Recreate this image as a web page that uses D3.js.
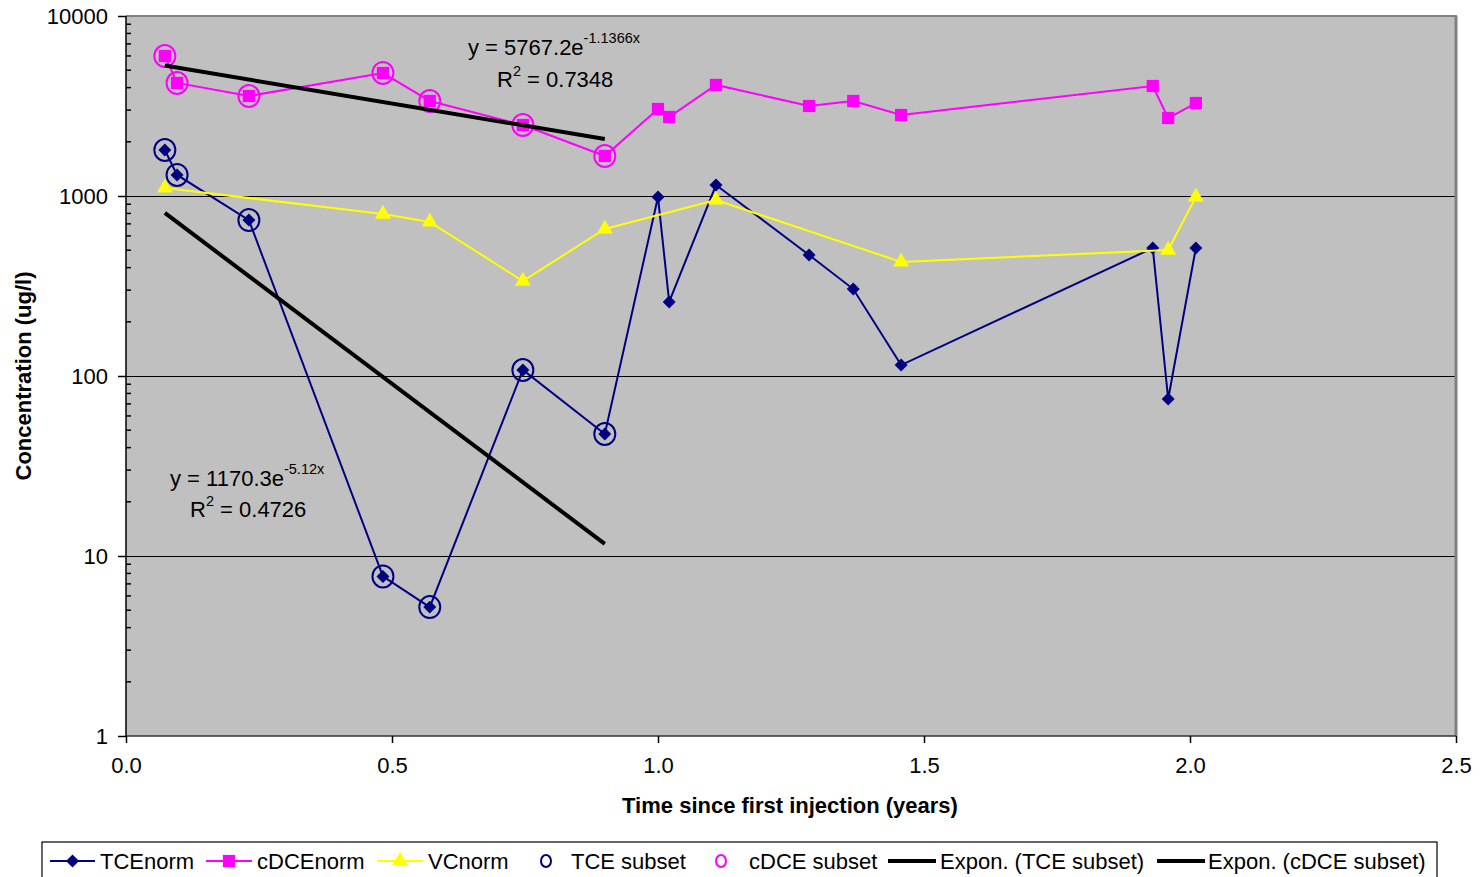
<!DOCTYPE html>
<html>
<head>
<meta charset="utf-8">
<script src="https://cdn.jsdelivr.net/npm/d3@7"></script>
<style>
  html, body { margin: 0; padding: 0; background: #fff; }
  svg { display: block; font-family: Arial, "Liberation Sans", sans-serif; }
</style>
</head>
<body>
<svg id="chart" width="1482" height="877"></svg>
<script>
// ---------------- DATA ----------------
const timeYears = [0.073, 0.096, 0.231, 0.483, 0.571, 0.746, 0.900, 1.000, 1.021, 1.109, 1.284, 1.367, 1.457, 1.930, 1.959, 2.011];
const tceNorm   = [1802, 1309, 735, 7.7, 5.2, 108, 47.6, 987, 258, 1151, 470, 304, 115, 514, 74.5, 514];
const cdceNorm  = [5995, 4245, 3594, 4822, 3372, 2479, 1668, 3043, 2748, 4140, 3162, 3372, 2818, 4084, 2712, 3285];
const vcNorm    = [1108, null, null, 794, 717, 337, 656, null, null, 950, null, null, 430, null, 501, 987];
const subsetCount = 7; // first 7 samples form the fitted subsets
const tceFit  = { a: 1170.3, b: -5.12,   label: "y = 1170.3e", sup: "-5.12x",   r2: " = 0.4726" };
const cdceFit = { a: 5767.2, b: -1.1366, label: "y = 5767.2e", sup: "-1.1366x", r2: " = 0.7348" };
const yTicks = [1, 10, 100, 1000, 10000];
const xTicks = [0.0, 0.5, 1.0, 1.5, 2.0, 2.5];
const legendItems = [
  { name: "TCEnorm",              type: "line",   color: "#000080", marker: "diamond" },
  { name: "cDCEnorm",             type: "line",   color: "#FF00FF", marker: "square" },
  { name: "VCnorm",               type: "line",   color: "#FFFF00", marker: "triangle" },
  { name: "TCE subset",           type: "circle", color: "#000080" },
  { name: "cDCE subset",          type: "circle", color: "#FF00FF" },
  { name: "Expon. (TCE subset)",  type: "trend",  color: "#000000" },
  { name: "Expon. (cDCE subset)", type: "trend",  color: "#000000" }
];

// ---------------- LAYOUT ----------------
const FS = 22;
const L = 126, R = 1456, T = 16, B = 736;
const svg = d3.select("#chart");
const x = d3.scaleLinear().domain([0, 2.5]).range([L, R]);
const y = d3.scaleLog().domain([1, 10000]).range([B, T]);

// plot area
svg.append("rect").attr("x", L).attr("y", T).attr("width", R - L).attr("height", B - T).attr("fill", "#C0C0C0");

// gridlines
svg.append("g").selectAll("line").data(yTicks.filter(d => d > 1 && d < 10000)).join("line")
  .attr("x1", L).attr("x2", R).attr("y1", d => Math.round(y(d)) + 0.5).attr("y2", d => Math.round(y(d)) + 0.5)
  .attr("stroke", "#000").attr("stroke-width", 1).attr("shape-rendering", "crispEdges");

// border top & right (gray)
svg.append("line").attr("x1", L).attr("x2", R + 1).attr("y1", T).attr("y2", T).attr("stroke", "#808080").attr("stroke-width", 2);
svg.append("line").attr("x1", R).attr("x2", R).attr("y1", T).attr("y2", B).attr("stroke", "#808080").attr("stroke-width", 3);

// y axis
const yAxisG = svg.append("g").attr("transform", `translate(${L},0)`)
  .call(d3.axisLeft(y).tickValues(yTicks).tickFormat(d3.format("d")).tickSize(8).tickPadding(10));
yAxisG.select(".domain").attr("stroke", "#000").attr("stroke-width", 1.5).attr("d", `M0,${T}V${B}`);
yAxisG.selectAll(".tick line").attr("stroke", "#000").attr("stroke-width", 1.5);
yAxisG.selectAll(".tick text").attr("font-size", FS).attr("fill", "#000").attr("font-family", "Arial, 'Liberation Sans', sans-serif");
// minor ticks (inside)
const minor = [];
yTicks.slice(0, -1).forEach(d => { for (let k = 2; k <= 9; k++) minor.push(d * k); });
svg.append("g").selectAll("line").data(minor).join("line")
  .attr("x1", L).attr("x2", L + 5).attr("y1", d => y(d)).attr("y2", d => y(d))
  .attr("stroke", "#000").attr("stroke-width", 1.5);

// x axis
const xAxisG = svg.append("g").attr("transform", `translate(0,${B})`)
  .call(d3.axisBottom(x).tickValues(xTicks).tickFormat(d3.format(".1f")).tickSize(7).tickPadding(14));
xAxisG.select(".domain").attr("stroke", "#333").attr("stroke-width", 1.5).attr("d", `M${L},0H${R}`);
xAxisG.selectAll(".tick line").attr("stroke", "#000").attr("stroke-width", 1.5);
xAxisG.selectAll(".tick text").attr("font-size", FS).attr("fill", "#000").attr("font-family", "Arial, 'Liberation Sans', sans-serif");

// axis titles
svg.append("text").attr("x", 790).attr("y", 813).attr("text-anchor", "middle")
  .attr("font-size", FS).attr("font-weight", "bold").text("Time since first injection (years)");
svg.append("text").attr("transform", "translate(31,376) rotate(-90)").attr("text-anchor", "middle")
  .attr("font-size", FS).attr("font-weight", "bold").text("Concentration (ug/l)");

// ---------------- SERIES ----------------
const rows = timeYears.map((t, i) => ({ t, tce: tceNorm[i], cdce: cdceNorm[i], vc: vcNorm[i], i }));
const lineGen = key => d3.line().x(d => x(d.t)).y(d => y(d[key]));
const plot = svg.append("g");

const diamondType = { draw(ctx, size) { const h = Math.sqrt(size / 2); ctx.moveTo(0, -h); ctx.lineTo(h, 0); ctx.lineTo(0, h); ctx.lineTo(-h, 0); ctx.closePath(); } };
const symbols = {
  diamond: d3.symbol().type(diamondType).size(84),
  square: d3.symbol().type(d3.symbolSquare).size(150),
  triangle: d3.symbol().type(d3.symbolTriangle).size(110)
};

function drawSeries(key, color, marker) {
  const pts = rows.filter(d => d[key] != null);
  plot.append("path").datum(pts).attr("d", lineGen(key)).attr("fill", "none")
    .attr("stroke", color).attr("stroke-width", 2);
  plot.append("g").selectAll("path").data(pts).join("path")
    .attr("transform", d => `translate(${x(d.t)},${y(d[key])})`)
    .attr("d", symbols[marker]).attr("fill", color);
}
drawSeries("tce", "#000080", "diamond");
drawSeries("cdce", "#FF00FF", "square");
drawSeries("vc", "#FFFF00", "triangle");

// subset circles
const subset = rows.filter(d => d.i < subsetCount);
function drawCircles(key, color) {
  plot.append("g").selectAll("ellipse").data(subset).join("ellipse")
    .attr("cx", d => x(d.t)).attr("cy", d => y(d[key])).attr("rx", 10.5).attr("ry", 11)
    .attr("fill", "none").attr("stroke", color).attr("stroke-width", 2);
}
drawCircles("tce", "#000080");
drawCircles("cdce", "#FF00FF");

// trend lines (exponential fits across subset x-range)
const tMin = d3.min(subset, d => d.t), tMax = d3.max(subset, d => d.t);
function drawTrend(fit) {
  const pts = [tMin, tMax].map(t => ({ t, v: fit.a * Math.exp(fit.b * t) }));
  plot.append("path").datum(pts)
    .attr("d", d3.line().x(d => x(d.t)).y(d => y(d.v)))
    .attr("fill", "none").attr("stroke", "#000").attr("stroke-width", 4);
}
drawTrend(tceFit);
drawTrend(cdceFit);

// equation labels
function eqLabel(fit, x0, yBase, rx0, rBase) {
  const t1 = svg.append("text").attr("x", x0).attr("y", yBase).attr("font-size", FS).attr("fill", "#000");
  t1.append("tspan").text(fit.label);
  t1.append("tspan").attr("font-size", 14.5).attr("dy", -12).text(fit.sup);
  const t2 = svg.append("text").attr("x", rx0).attr("y", rBase).attr("font-size", FS).attr("fill", "#000");
  t2.append("tspan").text("R");
  t2.append("tspan").attr("font-size", 14.5).attr("dy", -11).text("2");
  t2.append("tspan").attr("dy", 11).text(fit.r2);
}
eqLabel(cdceFit, 468, 55, 497, 87);
eqLabel(tceFit, 170, 486, 190, 517);

// ---------------- LEGEND ----------------
svg.append("rect").attr("x", 42).attr("y", 842).attr("width", 1395).attr("height", 45)
  .attr("fill", "#fff").attr("stroke", "#000").attr("stroke-width", 1.2);
const legendPos = [
  { l0: 50,  l1: 95,  text: 100 },
  { l0: 206, l1: 252, text: 257 },
  { l0: 377, l1: 423, text: 428 },
  { l0: 546, l1: 546, text: 571 },
  { l0: 721, l1: 721, text: 749 },
  { l0: 888, l1: 936, text: 940 },
  { l0: 1157, l1: 1205, text: 1208 }
];
const ly = 861;
const lg = svg.append("g");
legendItems.forEach((it, i) => {
  const p = legendPos[i];
  if (it.type === "line") {
    lg.append("line").attr("x1", p.l0).attr("x2", p.l1).attr("y1", ly).attr("y2", ly)
      .attr("stroke", it.color).attr("stroke-width", 2);
    lg.append("path").attr("transform", `translate(${(p.l0 + p.l1) / 2},${ly})`)
      .attr("d", symbols[it.marker]).attr("fill", it.color);
  } else if (it.type === "circle") {
    lg.append("ellipse").attr("cx", p.l0).attr("cy", ly).attr("rx", 5).attr("ry", 6)
      .attr("fill", "none").attr("stroke", it.color).attr("stroke-width", 2);
  } else {
    lg.append("line").attr("x1", p.l0).attr("x2", p.l1).attr("y1", ly).attr("y2", ly)
      .attr("stroke", it.color).attr("stroke-width", 4);
  }
  lg.append("text").attr("x", p.text).attr("y", ly + 8).attr("font-size", FS).attr("fill", "#000").text(it.name);
});
</script>
</body>
</html>
